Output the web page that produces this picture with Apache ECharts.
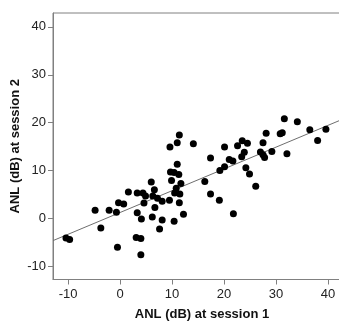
<!DOCTYPE html>
<html>
<head>
<meta charset="utf-8">
<script src="https://cdn.jsdelivr.net/npm/echarts@6/dist/echarts.min.js"></script>
<style>
  html, body { margin: 0; padding: 0; background: #fff; }
  #chart { width: 339px; height: 321px; }
</style>
</head>
<body>
<div id="chart"></div>
<script>
// ANL at session 1 (x) vs session 2 (y)
const session1 = [
  -10.4, -9.7, -4.8, -3.7, -2.1, -0.7, -0.3, 0.7, -0.5, 1.6,
  3.3, 3.3, 3.1, 4.0, 4.0, 4.1, 4.4, 4.6, 4.9,
  6.0, 6.2, 6.3, 6.6, 6.7, 7.2, 7.6, 8.1, 8.1,
  9.5, 9.6, 9.7, 9.9, 10.4, 10.4, 10.5, 10.8, 11.0, 11.0, 11.3, 11.4, 11.4, 11.5, 11.7, 12.2,
  14.1, 16.3, 17.4, 17.4, 19.1, 19.2, 20.1, 20.1, 21.0, 21.7, 21.8, 22.6, 23.5, 24.5, 23.9, 23.4, 24.2, 24.9, 26.1,
  27.0, 27.5, 28.1, 27.5, 27.8, 29.2, 30.8, 31.2, 31.6, 32.1, 34.1, 36.5, 38.0, 39.6
];
const session2 = [
  -4.1, -4.4, 1.7, -2.0, 1.7, 1.3, 3.3, 3.0, -6.0, 5.5,
  5.3, 1.2, -4.0, -4.2, -7.6, -0.1, 5.3, 3.2, 4.7,
  7.6, 0.3, 4.7, 6.0, 2.3, 4.2, -2.2, 3.6, -0.3,
  3.8, 14.9, 9.7, 7.9, -0.6, 9.6, 5.3, 6.3, 15.8, 11.3, 9.2, 17.4, 3.3, 5.1, 7.3, 0.9,
  15.6, 7.7, 5.1, 12.6, 3.8, 10.0, 10.8, 14.9, 12.3, 12.0, 1.0, 15.2, 16.2, 15.7, 13.8, 12.9, 10.6, 9.3, 6.7,
  13.9, 15.8, 17.8, 13.3, 12.7, 14.0, 17.7, 17.9, 20.8, 13.5, 20.2, 18.5, 16.3, 18.6
];
const tickValues = [-10, 0, 10, 20, 30, 40];

// fit line as drawn in the figure
const fitIntercept = 1.24;
const fitSlope = 0.455;

const xMin = -12.9, xMax = 42.5;
const yMin = -12.75, yMax = 42.9;

const points = session1.map((x, i) => [x, session2[i]]);
const fitLine = [xMin, xMax].map(x => [x, fitIntercept + fitSlope * x]);

const chart = echarts.init(document.getElementById('chart'), null, { renderer: 'canvas' });

const axisCommon = {
  type: 'value',
  nameLocation: 'middle',
  nameMoveOverlap: false,
  nameTextStyle: { fontFamily: 'Liberation Sans, Arial', fontWeight: 'bold', fontSize: 13, color: '#111' },
  axisLine: { show: true, onZero: false, lineStyle: { color: '#808080', width: 1 } },
  axisTick: { show: true, length: 5, customValues: tickValues, lineStyle: { color: '#808080' } },
  axisLabel: { customValues: tickValues, fontFamily: 'Liberation Sans, Arial', fontSize: 13, color: '#222' },
  splitLine: { show: false }
};

chart.setOption({
  animation: false,
  backgroundColor: '#fff',
  grid: {
    left: 53, right: -2, top: 13, bottom: 41.5,
    outerBoundsMode: 'none',
    containLabel: false,
    show: true, borderColor: '#808080', borderWidth: 1
  },
  xAxis: Object.assign({}, axisCommon, {
    min: xMin, max: xMax,
    name: 'ANL (dB) at session 1',
    nameGap: 28,
    nameTextStyle: Object.assign({}, axisCommon.nameTextStyle, { padding: [0, 0, 0, 10] }),
    axisLabel: Object.assign({}, axisCommon.axisLabel, { margin: 8 })
  }),
  yAxis: Object.assign({}, axisCommon, {
    min: yMin, max: yMax,
    name: 'ANL (dB) at session 2',
    nameGap: 31,
    axisLabel: Object.assign({}, axisCommon.axisLabel, { margin: 7 })
  }),
  series: [
    {
      type: 'line',
      data: fitLine,
      symbol: 'none',
      lineStyle: { color: '#6e6e6e', width: 1 },
      silent: true,
      z: 1
    },
    {
      type: 'scatter',
      data: points,
      symbolSize: 7,
      itemStyle: { color: '#000', opacity: 1 },
      z: 2
    }
  ]
});
</script>
</body>
</html>
